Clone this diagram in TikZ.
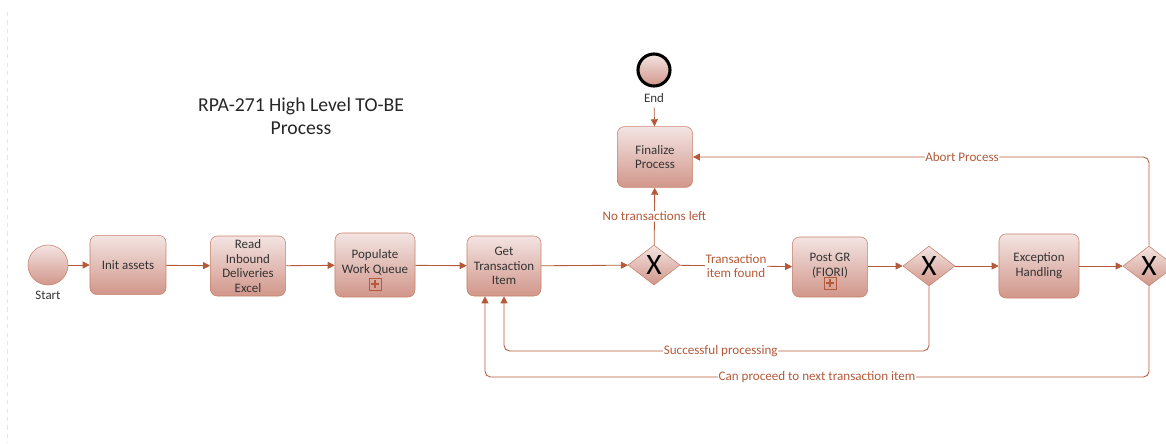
\documentclass[tikz,border=0pt]{standalone}
\usepackage{fontspec}
\setmainfont{Carlito}
\usepackage{tikz}
\usetikzlibrary{shapes.geometric,arrows.meta}

\definecolor{flowcol}{HTML}{B45A3A}
\definecolor{edgecol}{HTML}{C8826E}
\definecolor{filltop}{HTML}{F3E4E2}
\definecolor{fillbot}{HTML}{D1968A}
\definecolor{textcol}{HTML}{333333}

\begin{document}
\begin{tikzpicture}[x=0.025cm, y=-0.025cm,
		task_style/.style={rectangle,rounded corners=5pt,draw=edgecol,top color=filltop,bottom color=fillbot,
			text=textcol,align=center,font=\fontsize{9.2}{10.5}\selectfont,inner sep=1pt},
		gate_style/.style={diamond,draw=edgecol,top color=filltop,bottom color=fillbot,inner sep=0pt,
			minimum width=1.3cm,minimum height=1cm,font=\fontsize{21}{21}\selectfont},
		event_style/.style={circle,draw=edgecol,top color=filltop,bottom color=fillbot,minimum size=1cm,inner sep=0pt},
		plus_style/.style={rectangle,draw=flowcol,minimum size=0.3cm,inner sep=0pt,
			path picture={\draw[flowcol,line width=1.2pt]
				([xshift=-2.8pt]path picture bounding box.center) -- ([xshift=2.8pt]path picture bounding box.center)
				([yshift=-2.8pt]path picture bounding box.center) -- ([yshift=2.8pt]path picture bounding box.center);}},
		edge_style/.style={draw=flowcol,line width=0.6pt,rounded corners=4pt,-{Triangle[length=5pt,width=5pt]}},
		label_style/.style={fill=white,text=flowcol,inner sep=0.5pt,align=center,font=\fontsize{9.3}{10.5}\selectfont}]

		\clip (0,0) rectangle (1166,443);
		\draw[black!10,dashed] (7,12) -- (7,443);

		\node[font=\fontsize{14}{16.5}\selectfont,text=black!85,align=center] (title) at (301,116) {RPA-271 High Level TO-BE\\Process};

		\node[event_style] (start) at (48,265) {};
		\node[text=textcol,font=\fontsize{9.2}{10}\selectfont] (startlbl) at (48,295) {Start};
		\node[event_style,draw=black,line width=2.2pt,minimum size=0.8cm] (end) at (654,70) {};
		\node[text=textcol,font=\fontsize{9.2}{10}\selectfont] (endlbl) at (654,98) {End};

		\node[task_style,minimum width=1.9cm,minimum height=1.48cm] (init) at (128,265) {Init assets};
		\node[task_style,minimum width=1.88cm,minimum height=1.5cm] (read) at (248,266) {Read\\Inbound\\Deliveries\\Excel};
		\node[task_style,minimum width=2cm,minimum height=1.6cm] (queue) at (375,265) {Populate\\Work Queue\\[-5pt]};
		\node[plus_style] (queueplus) at (375,284) {};
		\node[task_style,minimum width=1.85cm,minimum height=1.5cm] (get) at (504,266) {Get\\Transaction\\Item};
		\node[gate_style] (gw1) at (654,265) {X};
		\node[task_style,minimum width=1.88cm,minimum height=1.5cm] (post) at (830,267) {Post GR\\(FIORI)\\[-7pt]};
		\node[plus_style] (postplus) at (830,283) {};
		\node[gate_style] (gw2) at (929,266) {X};
		\node[task_style,minimum width=2cm,minimum height=1.6cm] (exc) at (1039,266) {Exception\\Handling};
		\node[gate_style] (gw3) at (1149,266) {X};
		\node[task_style,minimum width=1.88cm,minimum height=1.52cm] (final) at (655,157) {Finalize\\Process};

		\coordinate (succy) at (0,351);
		\coordinate (nexty) at (0,377);

		\draw[edge_style] (start) -- (init);
		\draw[edge_style] (init) -- (read);
		\draw[edge_style] (read) -- (queue);
		\draw[edge_style] (queue) -- (get);
		\draw[edge_style] (get) -- (gw1);
		\draw[edge_style] (gw1) -- node[label_style]{Transaction\\item found} (post);
		\draw[edge_style] (gw1) -- node[label_style]{No transactions left} (final);
		\draw[edge_style] (endlbl) -- (final);
		\draw[edge_style] (post.east |- gw2) -- (gw2);
		\draw[edge_style] (gw2) -- (exc);
		\draw[edge_style] (exc) -- (gw3);
		\draw[edge_style] (gw2.south) |- node[label_style,pos=0.745]{Successful processing} (get.south |- succy) -- (get.south);
		\draw[edge_style] (gw3.south) |- node[label_style,pos=0.75]{Can proceed to next transaction item}
			([xshift=-0.475cm]get.south |- nexty) -- ([xshift=-0.475cm]get.south);
		\draw[edge_style] (gw3.north) |- node[label_style,pos=0.705]{Abort Process} (final.east);
\end{tikzpicture}
\end{document}
